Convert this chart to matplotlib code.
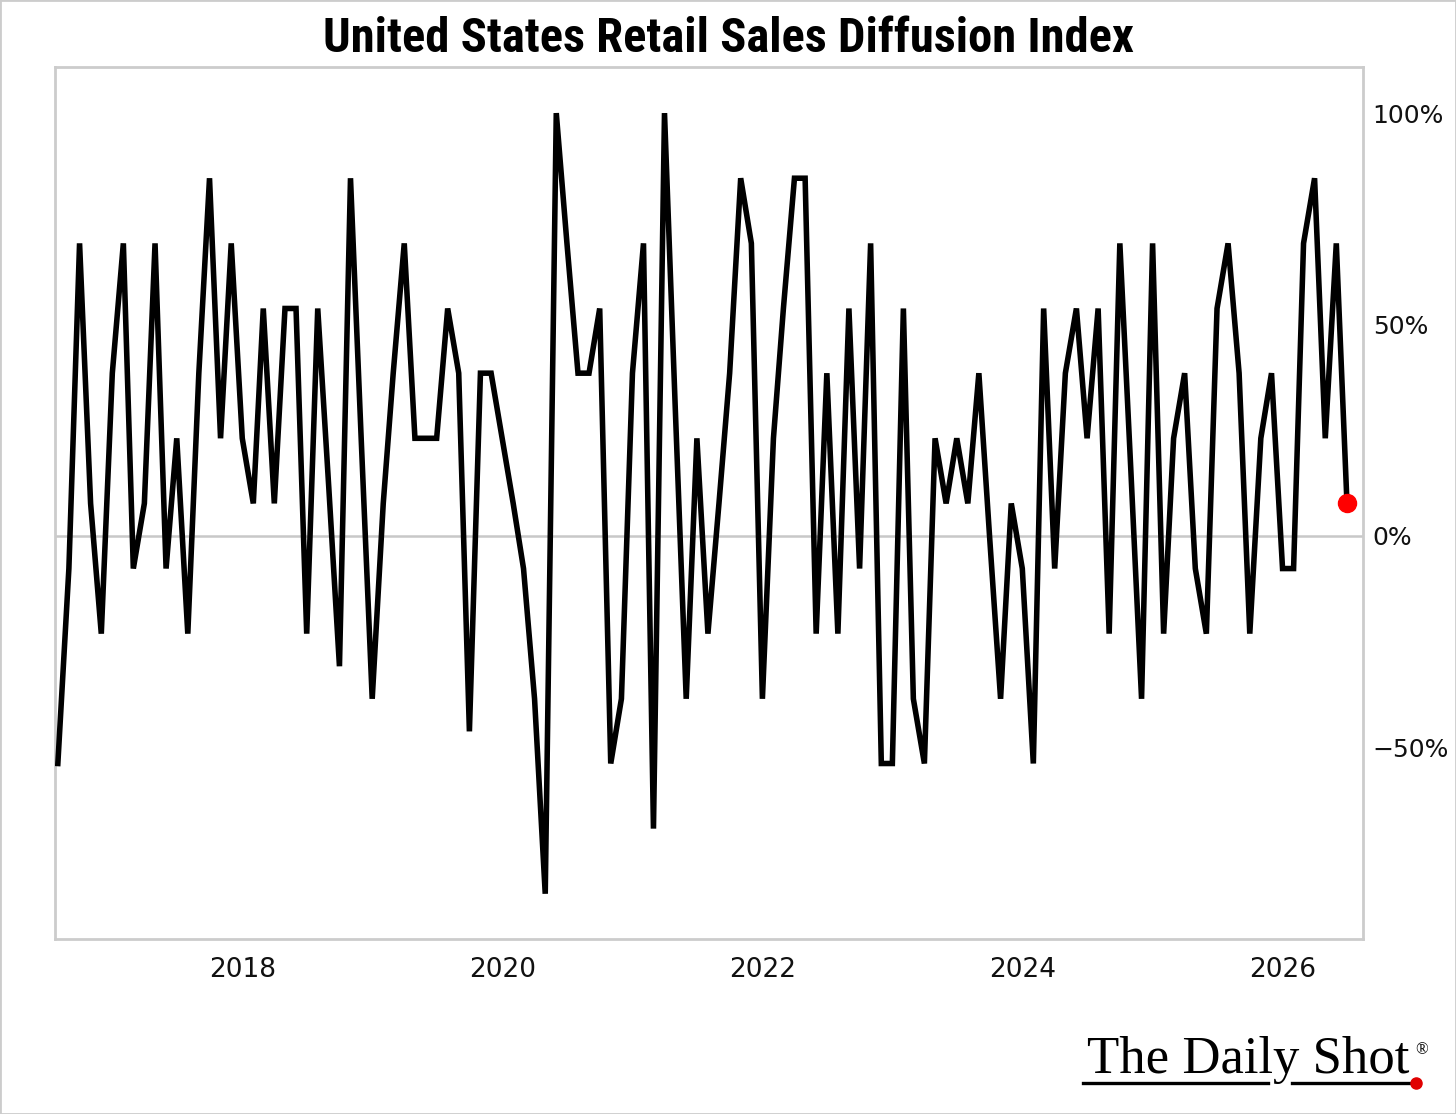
import numpy as np
import pandas as pd
import matplotlib
matplotlib.use("Agg")
import matplotlib.pyplot as plt
import matplotlib.dates as mdates
from matplotlib.patches import Rectangle

# monthly diffusion index, Aug 2016 - Jul 2026 (% of components rising minus falling)
dates = pd.date_range("2016-08-01", "2026-07-01", freq="MS")
values = [
    -53.8, -7.7, 69.2, 7.7, -23.1, 38.5, 69.2, -7.7, 7.7, 69.2,      # 2016-08 .. 2017-05
    -7.7, 23.1, -23.1, 38.5, 84.6, 23.1, 69.2, 23.1, 7.7, 53.8,      # 2017-06 .. 2018-03
    7.7, 53.8, 53.8, -23.1, 53.8, 11.5, -30.8, 84.6, 23.1, -38.5,    # 2018-04 .. 2019-01
    7.7, 38.5, 69.2, 23.1, 23.1, 23.1, 53.8, 38.5, -46.2, 38.5,      # 2019-02 .. 2019-11
    38.5, 23.1, 7.7, -7.7, -38.5, -84.6, 100.0, 69.2, 38.5, 38.5,    # 2019-12 .. 2020-09
    53.8, -53.8, -38.5, 38.5, 69.2, -69.2, 100.0, 30.8, -38.5, 23.1, # 2020-10 .. 2021-07
    -23.1, 7.7, 38.5, 84.6, 69.2, -38.5, 23.1, 53.8, 84.6, 84.6,     # 2021-08 .. 2022-05
    -23.1, 38.5, -23.1, 53.8, -7.7, 69.2, -53.8, -53.8, 53.8, -38.5, # 2022-06 .. 2023-03
    -53.8, 23.1, 7.7, 23.1, 7.7, 38.5, 0.0, -38.5, 7.7, -7.7,        # 2023-04 .. 2024-01
    -53.8, 53.8, -7.7, 38.5, 53.8, 23.1, 53.8, -23.1, 69.2, 15.4,    # 2024-02 .. 2024-11
    -38.5, 69.2, -23.1, 23.1, 38.5, -7.7, -23.1, 53.8, 69.2, 38.5,   # 2024-12 .. 2025-09
    -23.1, 23.1, 38.5, -7.7, -7.7, 69.2, 84.6, 23.1, 69.2, 7.7,      # 2025-10 .. 2026-07
]

yticks = [-50, 0, 50, 100]
ytick_labels = ["\u221250%", "0%", "50%", "100%"]
xtick_years = [2018, 2020, 2022, 2024, 2026]

plt.rcParams['font.family'] = ['DejaVu Sans']

fig = plt.figure(figsize=(14.56, 11.14), dpi=100)
ax = fig.add_axes([55/1456, 1 - 939/1114, (1363-55)/1456, (939-67)/1114])

ax.axhline(0, color="#c8c8c8", lw=1.8, zorder=1)
ax.plot(dates, values, color="black", lw=4.0, solid_joinstyle="miter", zorder=3)
ax.plot(dates[-1], values[-1], "o", color="#ff0000", ms=13, zorder=4)

ax.set_xlim(pd.Timestamp("2016-07-24"), pd.Timestamp("2026-08-15"))
ax.set_ylim(-95.3, 110.9)

ax.set_xticks([pd.Timestamp(f"{y}-01-01") for y in xtick_years])
ax.xaxis.set_major_formatter(mdates.DateFormatter("%Y"))
ax.set_yticks(yticks)
ax.set_yticklabels(ytick_labels)
ax.yaxis.tick_right()
ax.tick_params(axis="both", length=0, colors="#111111")
ax.tick_params(axis="x", pad=13, labelsize=19)
ax.tick_params(axis="y", pad=7, labelsize=18)

for s in ax.spines.values():
    s.set_color("#cccccc")
    s.set_linewidth(2)

fig.text(728/1456, 1 - 39/1114, "United States Retail Sales Diffusion Index",
         ha="center", va="center", fontsize=35, fontweight="bold",
         family=['Roboto Condensed', 'Roboto', 'DejaVu Sans'])

# logo
serif = ['Liberation Serif', 'DejaVu Serif']
fig.text(1248/1456, 1 - 1073/1114, "The Daily Shot", ha="center", va="baseline",
         fontsize=38, family=serif)
fig.text(1422/1456, 1 - 1050/1114, "\u00ae", ha="center", va="center",
         fontsize=12, family=serif)
fig.add_artist(plt.Line2D([1083/1456, 1268/1456], [1 - 1083/1114]*2, color="black", lw=2.4))
fig.add_artist(plt.Line2D([1292/1456, 1414/1456], [1 - 1083/1114]*2, color="black", lw=2.4))
fig.add_artist(plt.Line2D([1416/1456], [1 - 1083/1114], marker="o", color="#e00000", ms=8))

fig.add_artist(Rectangle((0, 0), 1, 1, transform=fig.transFigure, fill=False,
                         edgecolor="#cccccc", lw=2))

fig.savefig("out.png", dpi=100)
